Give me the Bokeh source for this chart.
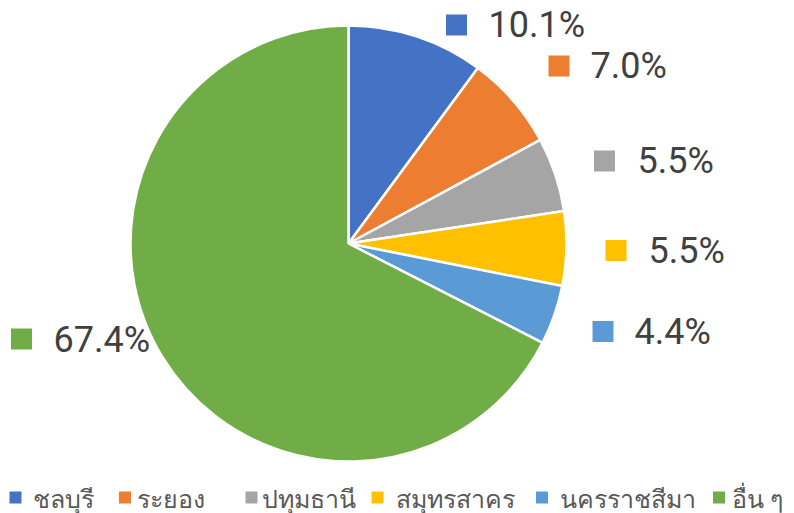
import numpy as np
from bokeh.plotting import figure
from bokeh.models import Range1d, ColumnDataSource
from bokeh.core.properties import value
from bokeh.embed import file_html
from bokeh.resources import INLINE

# ---- data ----
provinces = ["ชลบุรี", "ระยอง", "ปทุมธานี", "สมุทรสาคร", "นครราชสีมา", "อื่น ๆ"]
shares = [10.1, 7.0, 5.5, 5.5, 4.4, 67.4]
label_texts = ["10.1%", "7.0%", "5.5%", "5.5%", "4.4%", "67.4%"]
colors = ["#4472C4", "#ED7D31", "#A5A5A5", "#FFC000", "#5B9BD5", "#70AD47"]

# ---- layout (page pixel positions) ----
W, H = 794, 513


def px(x):
    return np.asarray(x, dtype=float)


def py(y):
    return H - np.asarray(y, dtype=float)


PIE_CX, PIE_CY, PIE_R = 348, 243, 218
lab_sq_x = [456, 558.5, 604, 615.5, 602.5, 21]
lab_sq_y = [24.5, 65.5, 160.5, 250, 331, 338.5]
lab_txt_x = [488, 590, 637, 648, 634, 53]
lab_txt_y = [24.5, 65.5, 160, 250.5, 331, 339]
leg_sq_x = [15, 124.5, 251, 377, 541.5, 718.5]
leg_txt_x = [32, 136, 261, 395, 559, 731]
LEG_Y = 497

p = figure(width=W, height=H, x_range=Range1d(0, W), y_range=Range1d(0, H),
           output_backend="svg", toolbar_location=None, min_border=0,
           x_axis_location=None, y_axis_location=None)
p.grid.visible = False
p.outline_line_color = None
p.background_fill_color = "white"
p.border_fill_color = "white"

frac = np.array(shares) / np.sum(shares)
cum = np.concatenate([[0.0], np.cumsum(frac)])
start = np.pi / 2 - cum[1:] * 2 * np.pi
end = np.pi / 2 - cum[:-1] * 2 * np.pi

src = ColumnDataSource(dict(
    x=[float(px(PIE_CX))] * len(shares), y=[float(py(PIE_CY))] * len(shares),
    start=start, end=end, color=colors))
p.wedge(x="x", y="y", radius=PIE_R, start_angle="start", end_angle="end",
        direction="anticlock", fill_color="color", line_color="white",
        line_width=2.5, source=src)

# data labels
p.rect(x=px(lab_sq_x), y=py(lab_sq_y), width=21, height=21,
       fill_color=colors, line_color=None)
p.text(x=px(lab_txt_x), y=py(lab_txt_y), text=label_texts,
       text_font=value("Roboto"), text_font_size="36px",
       text_baseline="middle", text_align="left", text_color="#404040")

# legend
p.rect(x=px(leg_sq_x), y=py([LEG_Y] * 6), width=12, height=12,
       fill_color=colors, line_color=None)
p.text(x=px(leg_txt_x), y=py([LEG_Y] * 6), text=provinces,
       text_font=value("Noto Sans"), text_font_size="25px",
       text_baseline="middle", text_align="left", text_color="#595959")

open("out.html", "w").write(file_html(p, INLINE))
